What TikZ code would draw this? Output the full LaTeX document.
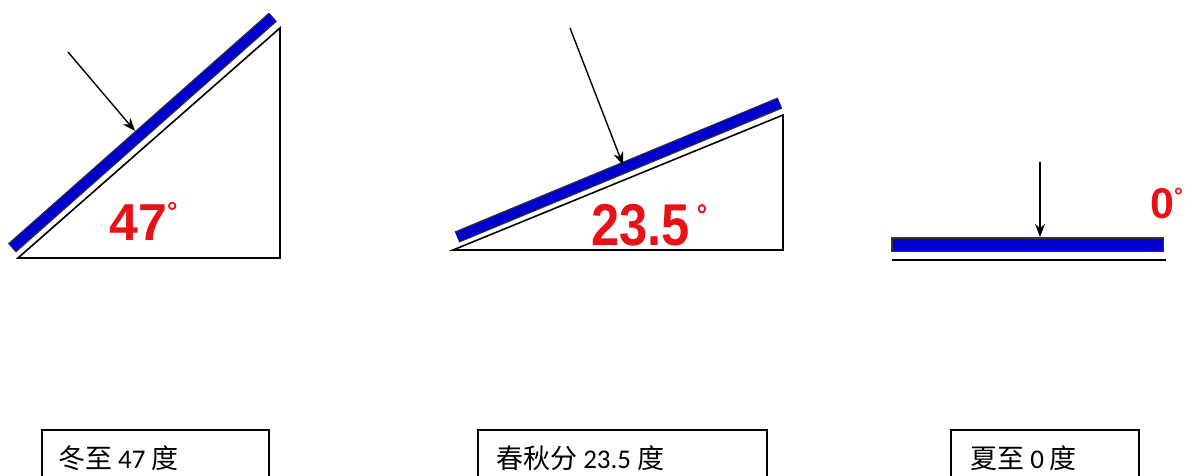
\documentclass[tikz,border=0pt]{standalone}
\usepackage{fontspec}
\setmainfont{Liberation Sans}
\newfontfamily\cjkf{Noto Sans CJK SC}
\newfontfamily\numf{Carlito}
\usetikzlibrary{arrows.meta}
\definecolor{panelblue}{RGB}{0,0,205}
\definecolor{anglered}{RGB}{232,18,22}
\tikzset{
  ground/.style={line width=1.6pt, black},
  panelborder/.style={line width=12pt, black!80},
  panelfill/.style={line width=9.6pt, panelblue},
  sunray/.style={line width=1.4pt, -{Stealth[length=13pt,width=10pt]}},
  anglelabel/.style={inner sep=0pt, anchor=base west, text=anglered, font=\bfseries},
  capbox/.style={line width=1.3pt},
  captext/.style={inner sep=0pt, anchor=west, font=\fontsize{27}{30}\selectfont\cjkf}
}
\begin{document}
\begin{tikzpicture}[x=1pt,y=-1pt]
\useasboundingbox (0,0) rectangle (1193,476);
\clip (0,0) rectangle (1193,476);
% ---------- winter solstice (47) ----------
\draw[ground] (18,258) -- (280,258) -- (280,28) -- cycle;
\draw[panelborder] (12,248) -- (273,17);
\draw[panelfill] (12.5,247.5) -- (272.5,17.5);
\coordinate (s1) at (68,52);
\coordinate (h1) at (135,131);
\draw[sunray] (s1) -- (h1);
\node[anglelabel, font=\bfseries\fontsize{52}{52}\selectfont] (a1) at (109,240) {47\fontsize{26}{26}\selectfont\raisebox{20pt}{°}};
% ---------- equinox (23.5) ----------
\draw[ground] (453,250) -- (783,250) -- (783,115) -- cycle;
\draw[panelborder] (457,237) -- (780,103);
\draw[panelfill] (457.5,237) -- (779.5,103);
\coordinate (s2) at (570,28);
\coordinate (h2) at (623,165);
\draw[sunray] (s2) -- (h2);
\node[anglelabel, xscale=0.86, font=\bfseries\fontsize{59}{59}\selectfont] (a2) at (591,245) {23.5\kern 8pt\fontsize{30}{30}\selectfont\raisebox{20pt}{°}};
% ---------- summer solstice (0) ----------
\draw[ground] (892,260) -- (1166,260);
\fill[black!80] (891,237) rectangle (1164,252);
\fill[panelblue] (892.5,238.5) rectangle (1162.5,250.5);
\coordinate (s3) at (1040,162);
\coordinate (h3) at (1040,237);
\draw[sunray] (s3) -- (h3);
\node[anglelabel, font=\bfseries\fontsize{43}{43}\selectfont] (a3) at (1150,218) {0\fontsize{22}{22}\selectfont\raisebox{15pt}{°}};
% ---------- caption boxes ----------
\draw[capbox] (42,430) rectangle (269,490);
\node[captext] (c1) at (58,458) {冬至 {\numf 47} 度};
\draw[capbox] (478,430) rectangle (767,490);
\node[captext] (c2) at (496,458) {春秋分 {\numf 23.5} 度};
\draw[capbox] (951,430) rectangle (1139,490);
\node[captext] (c3) at (970,458) {夏至 {\numf 0} 度};
\end{tikzpicture}
\end{document}
